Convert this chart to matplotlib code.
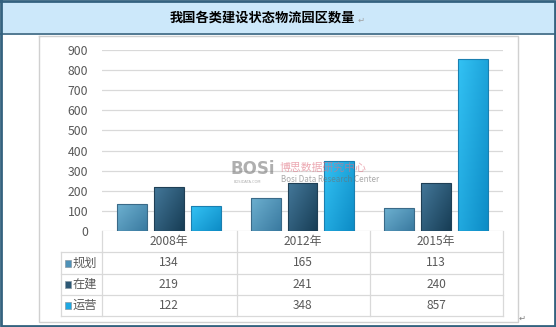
import matplotlib
matplotlib.use("Agg")
import matplotlib.pyplot as plt
import numpy as np
from matplotlib.transforms import blended_transform_factory
from matplotlib.patches import Rectangle

plt.rcParams['font.family'] = ['Noto Sans CJK SC', 'DejaVu Sans']

# ---- data ----
title = "我国各类建设状态物流园区数量"
categories = ["2008年", "2012年", "2015年"]
series_names = ["规划", "在建", "运营"]
plan = [134, 165, 113]
building = [219, 241, 240]
operating = [122, 348, 857]
series_values = [plan, building, operating]
yticks = [0, 100, 200, 300, 400, 500, 600, 700, 800, 900]

# gradient colours (light top-left, dark bottom-right)
grad_colors = [("#6db0d0", "#3a7aa0"), ("#44789a", "#173d55"), ("#33c2f4", "#0d8cc6")]
edge_colors = ["#3a6a88", "#1f3f55", "#1a7fb0"]
legend_colors = ["#4f92b8", "#2d5875", "#1ea8e2"]

W, H = 556, 327
fig = plt.figure(figsize=(W / 100, H / 100), dpi=100)

# background axes in pixel coords
bg = fig.add_axes([0, 0, 1, 1])
bg.set_xlim(0, W)
bg.set_ylim(H, 0)
bg.axis("off")

border = "#34627f"
bg.add_patch(Rectangle((1, 1), W - 2.5, 32, facecolor="#cce8fa", edgecolor="none", zorder=0))
bg.plot([0.5, W - 1.5, W - 1.5, 0.5, 0.5], [0.8, 0.8, H - 1.5, H - 1.5, 0.8], color=border, lw=2.0, zorder=5)
bg.plot([0, W], [33.5, 33.5], color=border, lw=1.2, zorder=5)
# inner chart frame
bg.plot([39, 518, 518, 39, 39], [35.5, 35.5, 322, 322, 35.5], color="#d0d0d0", lw=1.0, zorder=1)

bg.text(262, 17.5, title, ha="center", va="center", fontsize=9.5, fontweight="bold", color="#000000")
bg.text(358, 20, "↵", ha="left", va="center", fontsize=6, color="#a0a0a0", family=["DejaVu Sans"])
bg.text(519, 318, "↵", ha="left", va="center", fontsize=6, color="#808080", family=["DejaVu Sans"])

# plot axes: x 102..503 px, y 50..231 px
x0, x1, y0, y1 = 102, 503, 50, 231
ax = fig.add_axes([x0 / W, 1 - y1 / H, (x1 - x0) / W, (y1 - y0) / H])
ax.set_xlim(-0.5, len(categories) - 0.5)
ax.set_ylim(0, 900)
ax.patch.set_alpha(0)
for s in ax.spines.values():
    s.set_visible(False)
ax.set_yticks(yticks)
ax.set_xticks([])
ax.tick_params(axis="y", length=0, pad=10, labelsize=8.8, labelcolor="#595959")
ax.yaxis.grid(True, color="#d9d9d9", lw=0.9)
ax.set_axisbelow(True)

offsets = [-0.276, 0.0, 0.276]
width = 0.224
xs = np.arange(len(categories))
for k, vals in enumerate(series_values):
    bars = ax.bar(xs + offsets[k], vals, width=width, facecolor="none",
                  edgecolor=edge_colors[k], lw=0.8, zorder=3)
    c0 = np.array(matplotlib.colors.to_rgb(grad_colors[k][0]))
    c1 = np.array(matplotlib.colors.to_rgb(grad_colors[k][1]))
    for b in bars:
        bx, by, bw, bh = b.get_x(), b.get_y(), b.get_width(), b.get_height()
        n = 40
        u = np.linspace(0, 1, n)
        X, Y = np.meshgrid(u, u)
        t = np.clip(0.55 * X + 0.45 * (1 - Y), 0, 1)  # top-left light -> bottom-right dark
        img = c0[None, None, :] * (1 - t[..., None]) + c1[None, None, :] * t[..., None]
        im = ax.imshow(img, extent=[bx, bx + bw, by, by + bh], origin="lower",
                       aspect="auto", zorder=2, interpolation="bilinear")
        im.set_clip_path(b)

# ---- data table ----
tr = blended_transform_factory(ax.transData, bg.transData)
grid_c = "#d9d9d9"
row_y = [231, 252, 274, 295, 316]
bg.plot([102, 503], [252, 252], color=grid_c, lw=0.9)
bg.plot([61, 102], [252, 252], color=grid_c, lw=0.9)
for yy in row_y[2:]:
    bg.plot([61, 503], [yy, yy], color=grid_c, lw=0.9)
for xx in [102, 236.7, 370.3, 503]:
    bg.plot([xx, xx], [231, 316], color=grid_c, lw=0.9)
bg.plot([61, 61], [252, 316], color=grid_c, lw=0.9)

for i, c in enumerate(categories):
    ax.text(i, 242, c, transform=tr, ha="center", va="center", fontsize=8.6, color="#595959")
for k, vals in enumerate(series_values):
    yc = (row_y[k + 1] + row_y[k + 2]) / 2
    for i, v in enumerate(vals):
        ax.text(i, yc, str(v), transform=tr, ha="center", va="center", fontsize=8.6, color="#595959")
    bg.add_patch(Rectangle((64.5, yc - 3.5), 6.5, 7, facecolor=legend_colors[k],
                           edgecolor="#8a9aa5", lw=0.5))
    bg.text(72.5, yc, series_names[k], ha="left", va="center", fontsize=8.8, color="#595959")

# watermark overlay (on top of bars)
ov = fig.add_axes([0, 0, 1, 1])
ov.set_xlim(0, W)
ov.set_ylim(H, 0)
ov.axis("off")
ov.patch.set_alpha(0)
ov.text(231, 169.5, "BOSi", ha="left", va="center", fontsize=12, fontweight="bold",
        color="#7a7a7a", alpha=0.6, family=["DejaVu Sans"])
ov.text(234, 182, "BOSIDATA.COM", ha="left", va="center", fontsize=2.6,
        color="#7a7a7a", alpha=0.6, family=["DejaVu Sans"])
ov.text(280, 168, "博思数据研究中心", ha="left", va="center", fontsize=7.8,
        color="#e07080", alpha=0.6)
ov.text(281, 179, "Bosi Data Research Center", ha="left", va="center", fontsize=5.8,
        color="#707070", alpha=0.6)

fig.savefig("out.png", dpi=100)
